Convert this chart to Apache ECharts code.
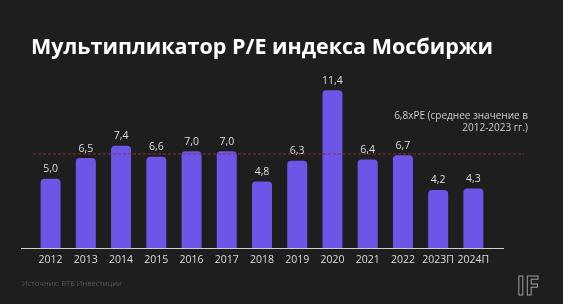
<!DOCTYPE html>
<html><head><meta charset="utf-8">
<script src="https://cdn.jsdelivr.net/npm/echarts@6/dist/echarts.min.js"></script>
<style>html,body{margin:0;padding:0;background:#1e1e1e;}#c{width:563px;height:304px;}</style>
</head><body><div id="c"></div>
<script>
const titleText = 'Мультипликатор P/E индекса Мосбиржи';
const categories = ['2012','2013','2014','2015','2016','2017','2018','2019','2020','2021','2022','2023П','2024П'];
const peValues = [5.0, 6.5, 7.4, 6.6, 7.0, 7.0, 4.8, 6.3, 11.4, 6.4, 6.7, 4.2, 4.3];
const averageValue = 6.8;
const averageNote = ['6,8xPE (среднее значение в', '2012-2023 гг.)'];
const sourceText = 'Источник: ВТБ Инвестиции';

const chart = echarts.init(document.getElementById('c'));
const font = '"Open Sans", "Noto Sans", sans-serif';
chart.setOption({
  backgroundColor: '#1e1e1e',
  animation: false,
  title: {
    text: titleText, left: 26, top: 32,
    textStyle: {color: '#ffffff', fontSize: 21.5, fontWeight: 'bold', fontFamily: font}
  },
  grid: {left: 33, width: 458, top: 82, bottom: 56},
  xAxis: {
    type: 'category', data: categories,
    axisLine: {show: false}, axisTick: {show: false},
    axisLabel: {color: '#dddddd', fontSize: 10.5, fontFamily: font, margin: 7, interval: 0}
  },
  yAxis: {type: 'value', min: 0, max: 12, show: false, splitLine: {show: false}},
  series: [{
    type: 'bar', data: peValues, barWidth: 20,
    itemStyle: {color: '#6d55e8', borderRadius: [4, 4, 0, 0]},
    label: {
      show: true, position: 'top', distance: 4, color: '#dddddd', fontSize: 10.5, fontFamily: font,
      formatter: p => p.value.toFixed(1).replace('.', ',')
    }
  }]
});
const yAvg = chart.convertToPixel({yAxisIndex: 0}, averageValue);
const yBase = chart.convertToPixel({yAxisIndex: 0}, 0);
chart.setOption({
  graphic: [
    {type: 'line', shape: {x1: 33, y1: yAvg, x2: 524, y2: yAvg}, z: 10,
     style: {stroke: '#8a3434', lineWidth: 1, lineDash: [3, 2]}},
    {type: 'line', shape: {x1: 21, y1: yBase + 0.5, x2: 504, y2: yBase + 0.5}, z: 10,
     style: {stroke: '#cfcfcf', lineWidth: 1}},
    {type: 'text', x: 528, y: 116, z: 10,
     style: {text: averageNote[0], fill: '#cccccc', fontSize: 10, fontFamily: font, align: 'right', verticalAlign: 'middle'}},
    {type: 'text', x: 528, y: 128, z: 10,
     style: {text: averageNote[1], fill: '#cccccc', fontSize: 10, fontFamily: font, align: 'right', verticalAlign: 'middle'}},
    {type: 'text', left: 22, top: 280,
     style: {text: sourceText, fill: '#575757', fontSize: 7.5, fontFamily: font}},
    {type: 'text', left: 516, top: 274,
     style: {text: 'IF', fill: 'transparent', stroke: '#9a9a9a', lineWidth: 1, fontSize: 26, fontWeight: 'bold', fontFamily: font}}
  ]
});
</script></body></html>
